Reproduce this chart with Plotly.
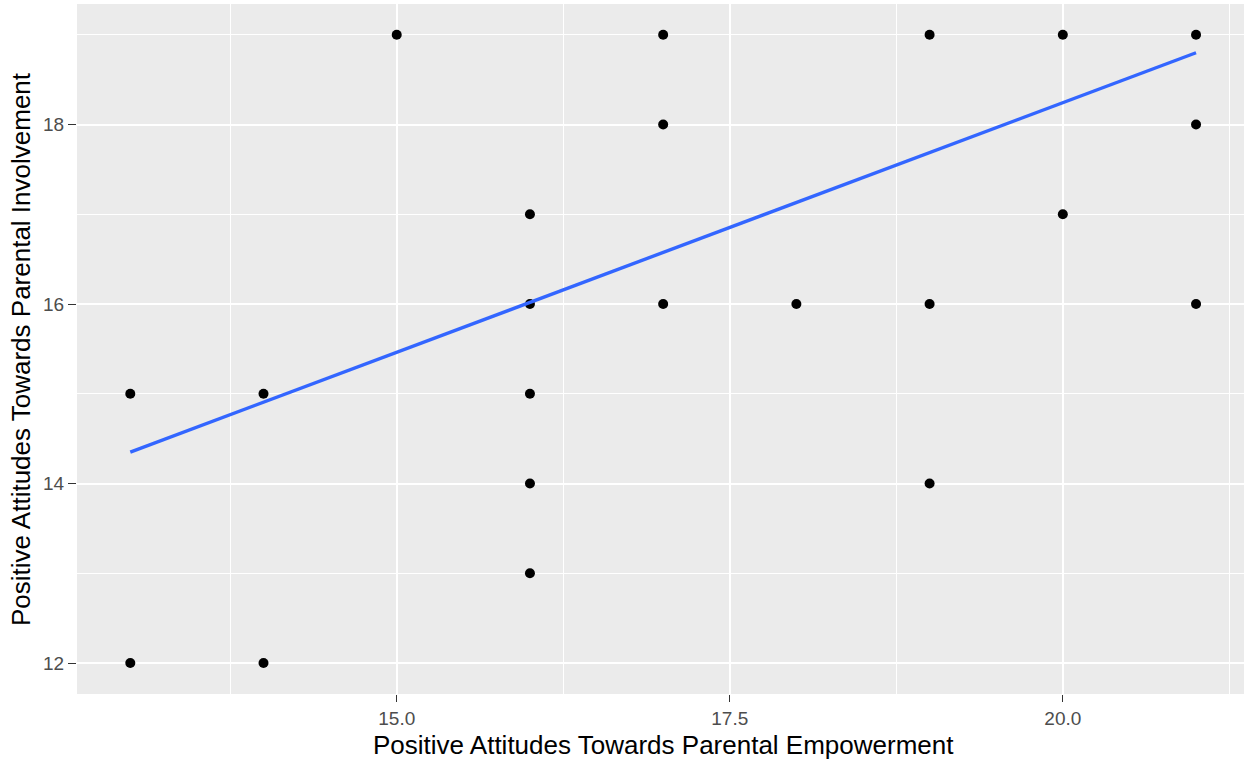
import plotly.graph_objects as go

# Observed scores
empowerment = [13, 13, 14, 14, 15, 16, 16, 16, 16, 16, 17, 17, 17, 18, 19, 19, 19, 20, 20, 21, 21, 21]
involvement = [15, 12, 15, 12, 19, 17, 16, 15, 14, 13, 19, 18, 16, 16, 19, 16, 14, 19, 17, 19, 18, 16]

# Fitted linear trend (endpoints of the lm fit)
fit_x = [13, 21]
fit_y = [14.35, 18.80]

x_ticks = [15.0, 17.5, 20.0]
x_tick_labels = ["15.0", "17.5", "20.0"]
x_minor = [13.75, 16.25, 18.75, 21.25]
y_ticks = [12, 14, 16, 18]
y_tick_labels = ["12", "14", "16", "18"]
y_minor = [13, 15, 17, 19]

FONT = "Liberation Sans, Arial, sans-serif"

fig = go.Figure()
fig.add_trace(go.Scatter(
    x=empowerment, y=involvement, mode="markers",
    marker=dict(color="black", size=10, line=dict(width=0)),
    showlegend=False, hoverinfo="x+y",
))
fig.add_trace(go.Scatter(
    x=fit_x, y=fit_y, mode="lines",
    line=dict(color="#3366FF", width=3.4),
    showlegend=False,
))

axis_common = dict(
    showline=False, zeroline=False,
    showgrid=True, gridcolor="white", gridwidth=2,
    ticks="outside", tickcolor="#333333", tickwidth=1.4,
    tickfont=dict(family=FONT, size=19, color="#4D4D4D"),
)

fig.update_xaxes(
    range=[12.6, 21.36], tickmode="array",
    tickvals=x_ticks, ticktext=x_tick_labels, ticklen=7,
    minor=dict(tickmode="array", tickvals=x_minor, showgrid=True,
               gridcolor="white", gridwidth=1.2, ticks=""),
    **axis_common,
)
fig.update_yaxes(
    range=[11.655, 19.343], tickmode="array",
    tickvals=y_ticks, ticktext=y_tick_labels, ticklen=8,
    minor=dict(tickmode="array", tickvals=y_minor, showgrid=True,
               gridcolor="white", gridwidth=1.2, ticks=""),
    **axis_common,
)

fig.add_annotation(
    text="Positive Attitudes Towards Parental Empowerment",
    xref="paper", yref="paper", x=0.5025, y=-0.0739,
    xanchor="center", yanchor="middle", showarrow=False,
    font=dict(family=FONT, size=26, color="black"),
)
fig.add_annotation(
    text="Positive Attitudes Towards Parental Involvement",
    xref="paper", yref="paper", x=-0.048, y=0.5,
    xanchor="center", yanchor="middle", showarrow=False, textangle=-90,
    font=dict(family=FONT, size=26, color="black"),
)

fig.update_layout(
    width=1244, height=763,
    margin=dict(l=77, r=0, t=4, b=69, autoexpand=False),
    paper_bgcolor="white", plot_bgcolor="#EBEBEB",
    showlegend=False,
)

fig.write_html("out.html")
